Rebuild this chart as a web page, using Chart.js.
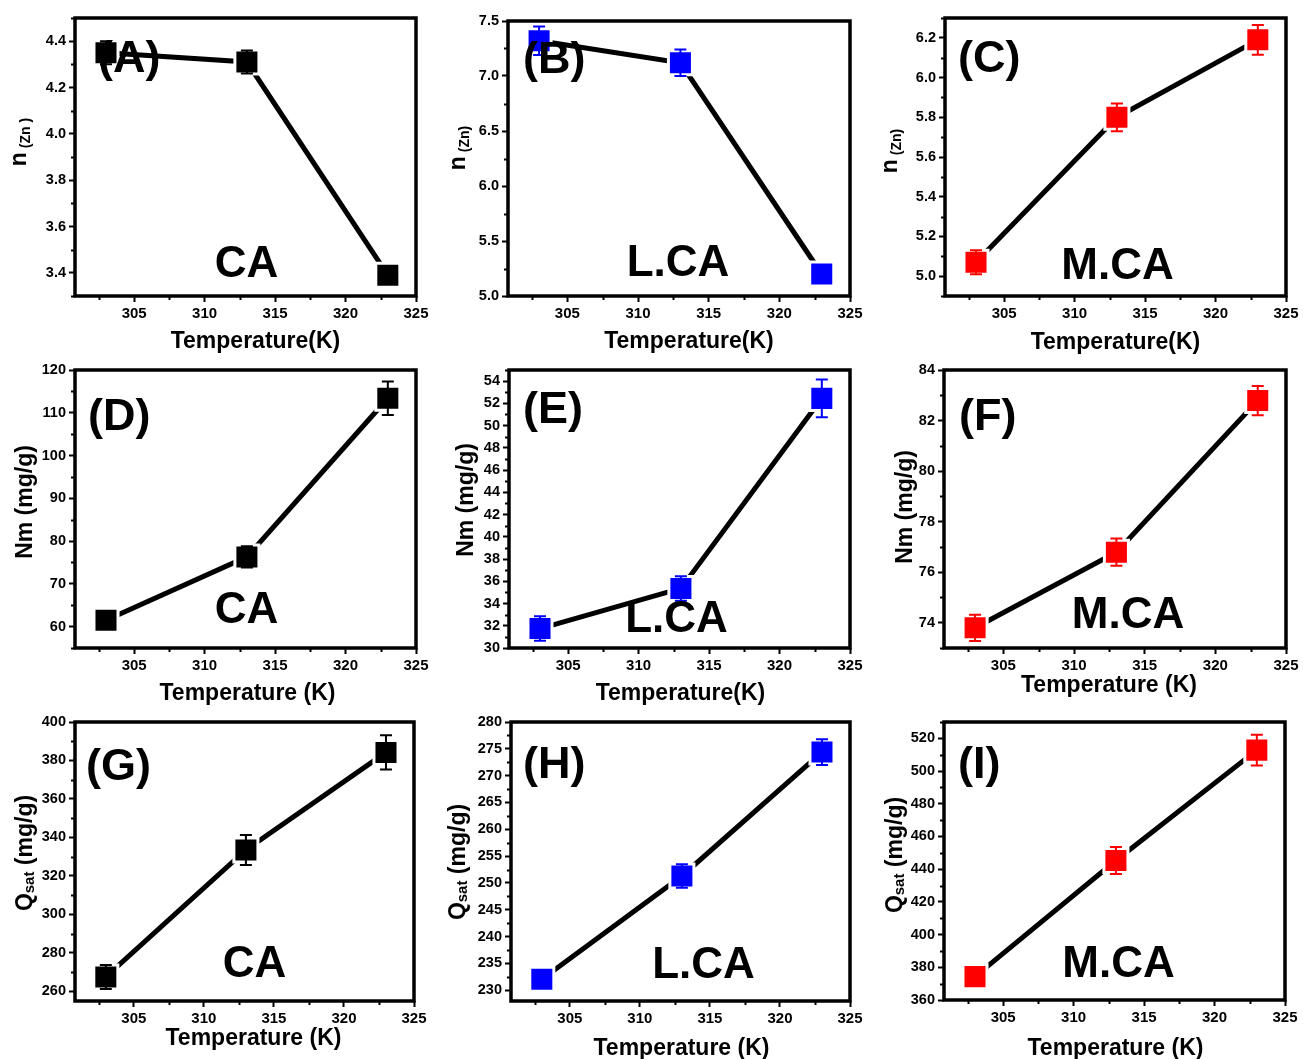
<!DOCTYPE html>
<html><head><meta charset="utf-8">
<script src="https://cdn.jsdelivr.net/npm/chart.js@4.4.1/dist/chart.umd.min.js"></script>
<style>
html,body{margin:0;padding:0;background:#fff;width:1303px;height:1059px;overflow:hidden;position:relative}
canvas{position:absolute}
</style></head><body>
<script>
// ---------- data ----------
const temperatures = [303, 313, 323];
const temperatureTicks = [305, 310, 315, 320, 325];

const nZnCA = [4.35, 4.31, 3.39],      nZnCAErr = [0.05, 0.05, 0.02];
const nZnLCA = [7.32, 7.12, 5.20],     nZnLCAErr = [0.13, 0.12, 0.05];
const nZnMCA = [5.07, 5.80, 6.19],     nZnMCAErr = [0.06, 0.07, 0.075];
const nmCA = [61.5, 76.3, 113.4],      nmCAErr = [1.0, 2.5, 3.9];
const nmLCA = [31.75, 35.36, 52.45],   nmLCAErr = [1.1, 1.1, 1.7];
const nmMCA = [73.8, 76.79, 82.79],    nmMCAErr = [0.52, 0.54, 0.58];
const qsatCA = [267.5, 333.5, 384.2],  qsatCAErr = [6.2, 7.8, 8.9];
const qsatLCA = [232.05, 251.3, 274.4],qsatLCAErr = [1.5, 2.2, 2.4];
const qsatMCA = [374.3, 445.3, 512.8], qsatMCAErr = [5, 8.2, 9.4];

const ticksA = [3.4, 3.6, 3.8, 4.0, 4.2, 4.4];
const ticksB = [5.0, 5.5, 6.0, 6.5, 7.0, 7.5];
const ticksC = [5.0, 5.2, 5.4, 5.6, 5.8, 6.0, 6.2];
const ticksD = [60, 70, 80, 90, 100, 110, 120];
const ticksE = [30, 32, 34, 36, 38, 40, 42, 44, 46, 48, 50, 52, 54];
const ticksF = [74, 76, 78, 80, 82, 84];
const ticksG = [260, 280, 300, 320, 340, 360, 380, 400];
const ticksH = [230, 235, 240, 245, 250, 255, 260, 265, 270, 275, 280];
const ticksI = [360, 380, 400, 420, 440, 460, 480, 500, 520];

const panelLetters = ['(A)', '(B)', '(C)', '(D)', '(E)', '(F)', '(G)', '(H)', '(I)'];
const sampleNames = ['CA', 'L.CA', 'M.CA'];
const xTitleNoSpace = 'Temperature(K)';
const xTitleSpace = 'Temperature (K)';

// ---------- styles / layout ----------
const BLACK = '#000000', BLUE = '#0000ff', RED = '#ff0000';
const FONT = '"Liberation Sans", Arial, sans-serif';
const nTitle = [['n', 23, 0], [' (Zn )', 14, 4]];
const nTitle2 = [['n', 23, 0], [' (Zn)', 14, 4]];
const nmTitle = [['Nm (mg/g)', 23, 0]];
const qTitle = [['Q', 23, 0], ['sat', 15, 2], [' (mg/g)', 23, 0]];

const panels = [
  {v: nZnCA, e: nZnCAErr, c: BLACK, ticks: ticksA, min: 3.3, max: 4.5, minor: 0.1, dec: 1, yt: nTitle, xt: xTitleNoSpace, s: 0,
   box: [75, 18, 421, 296], ytx: -49, yty: 124, xtx: 10, xty: 52, lx: 23, ly: 54, sx: 1, sy: -19},
  {v: nZnLCA, e: nZnLCAErr, c: BLUE, ticks: ticksB, min: 5.0, max: 7.5, minor: 0.25, dec: 1, yt: nTitle2, xt: xTitleNoSpace, s: 1,
   box: [508, 21, 855, 296], ytx: -43, yty: 127, xtx: 10, xty: 52, lx: 15, ly: 52, sx: -1, sy: -20},
  {v: nZnMCA, e: nZnMCAErr, c: RED, ticks: ticksC, min: 4.9, max: 6.3, minor: 0.1, dec: 1, yt: nTitle2, xt: xTitleNoSpace, s: 2,
   box: [945, 18, 1291, 296], ytx: -48, yty: 133, xtx: 0, xty: 53, lx: 13, ly: 54, sx: 2, sy: -17},
  {v: nmCA, e: nmCAErr, c: BLACK, ticks: ticksD, min: 55, max: 120, minor: 5, dec: 0, yt: nmTitle, xt: xTitleSpace, s: 0,
   box: [75, 370, 421, 648], ytx: -43, yty: 132, xtx: 2, xty: 52, lx: 13, ly: 60, sx: 1, sy: -25},
  {v: nmLCA, e: nmLCAErr, c: BLUE, ticks: ticksE, min: 30, max: 55, minor: 1, dec: 0, yt: nmTitle, xt: xTitleNoSpace, s: 1,
   box: [509, 370, 855, 648], ytx: -36, yty: 130, xtx: 1, xty: 52, lx: 14, ly: 53, sx: -3, sy: -16},
  {v: nmMCA, e: nmMCAErr, c: RED, ticks: ticksF, min: 73, max: 84, minor: 1, dec: 0, yt: nmTitle, xt: xTitleSpace, s: 2,
   box: [944, 370, 1291, 648], ytx: -32, yty: 137, xtx: -6, xty: 44, lx: 15, ly: 60, sx: 13, sy: -20},
  {v: qsatCA, e: qsatCAErr, c: BLACK, ticks: ticksG, min: 255, max: 400, minor: 10, dec: 0, yt: qTitle, xt: xTitleSpace, s: 0,
   box: [75, 722, 419, 1001], ytx: -43, yty: 131, xtx: 9, xty: 44, lx: 11, ly: 58, sx: 10, sy: -24},
  {v: qsatLCA, e: qsatLCAErr, c: BLUE, ticks: ticksH, min: 228, max: 280, minor: 2.5, dec: 0, yt: qTitle, xt: xTitleSpace, s: 1,
   box: [511, 722, 855, 1001], ytx: -46, yty: 140, xtx: 1, xty: 54, lx: 12, ly: 56, sx: 23, sy: -23},
  {v: qsatMCA, e: qsatMCAErr, c: RED, ticks: ticksI, min: 360, max: 530, minor: 10, dec: 0, yt: qTitle, xt: xTitleSpace, s: 2,
   box: [944, 722, 1290, 1000], ytx: -42, yty: 133, xtx: 1, xty: 55, lx: 14, ly: 56, sx: 4, sy: -23}
];

const PAD_L = 75, PAD_T = 25, PAD_R = 15, PAD_B = 65;

const decor = {
  id: 'decor',
  afterDatasetsDraw(chart, args, o) {
    const ctx = chart.ctx, xs = chart.scales.x, ys = chart.scales.y;
    ctx.save();
    ctx.strokeStyle = o.color; ctx.lineWidth = 2;
    o.values.forEach((v, i) => {
      const px = xs.getPixelForValue(o.xs[i]);
      const t = ys.getPixelForValue(v + o.errors[i]);
      const b = ys.getPixelForValue(v - o.errors[i]);
      ctx.beginPath();
      ctx.moveTo(px, t); ctx.lineTo(px, b);
      ctx.moveTo(px - 6, t); ctx.lineTo(px + 6, t);
      ctx.moveTo(px - 6, b); ctx.lineTo(px + 6, b);
      ctx.stroke();
    });
    ctx.restore();
  },
  afterDraw(chart, args, o) {
    const ctx = chart.ctx, xs = chart.scales.x, ys = chart.scales.y, ca = chart.chartArea;
    ctx.save();
    // frame
    ctx.strokeStyle = '#000'; ctx.lineWidth = 3.5;
    ctx.strokeRect(ca.left, ca.top, ca.right - ca.left, ca.bottom - ca.top);
    // minor ticks
    ctx.lineWidth = 2;
    ctx.beginPath();
    const near = (a, arr) => arr.some(t => Math.abs(t - a) < 1e-6);
    for (let k = Math.ceil(xs.min / 2.5 - 1e-9); k * 2.5 <= xs.max + 1e-9; k++) {
      const v = k * 2.5;
      if (near(v, o.xMajor)) continue;
      const px = Math.round(xs.getPixelForValue(v)) + 0.5;
      ctx.moveTo(px, ca.bottom); ctx.lineTo(px, ca.bottom + 4);
    }
    for (let k = Math.ceil(ys.min / o.minor - 1e-9); k * o.minor <= ys.max + 1e-9; k++) {
      const v = k * o.minor;
      if (near(v, o.yMajor)) continue;
      const py = Math.round(ys.getPixelForValue(v)) + 0.5;
      ctx.moveTo(ca.left, py); ctx.lineTo(ca.left - 4, py);
    }
    ctx.stroke();
    // texts
    ctx.fillStyle = '#000';
    ctx.textBaseline = 'alphabetic';
    ctx.font = 'bold 45px ' + FONT;
    ctx.textAlign = 'left';
    ctx.fillText(o.letter, ca.left + o.lx, ca.top + o.ly);
    ctx.font = 'bold 44px ' + FONT;
    ctx.textAlign = 'center';
    ctx.fillText(o.sample, (ca.left + ca.right) / 2 + o.sx, ca.bottom + o.sy);
    ctx.font = 'bold 23px ' + FONT;
    ctx.fillText(o.xTitle, (ca.left + ca.right) / 2 + o.xtx, ca.bottom + o.xty);
    ctx.textAlign = 'left';
    let total = 0;
    o.yTitle.forEach(([t, s]) => { ctx.font = 'bold ' + s + 'px ' + FONT; total += ctx.measureText(t).width; });
    ctx.translate(ca.left + o.ytx, ca.top + o.yty);
    ctx.rotate(-Math.PI / 2);
    let x = -total / 2;
    o.yTitle.forEach(([t, s, dy]) => {
      ctx.font = 'bold ' + s + 'px ' + FONT;
      ctx.fillText(t, x, dy);
      x += ctx.measureText(t).width;
    });
    ctx.restore();
  }
};

panels.forEach((p, idx) => {
  const [l, t, r, b] = p.box;
  const cv = document.createElement('canvas');
  const w = (r - l) + PAD_L + PAD_R, h = (b - t) + PAD_T + PAD_B;
  cv.width = w; cv.height = h;
  cv.style.left = (l - PAD_L) + 'px';
  cv.style.top = (t - PAD_T) + 'px';
  cv.style.width = w + 'px'; cv.style.height = h + 'px';
  document.body.appendChild(cv);
  const points = temperatures.map((x, i) => ({x: x, y: p.v[i]}));
  new Chart(cv, {
    type: 'line',
    data: {datasets: [{
      data: points,
      borderColor: BLACK, borderWidth: 5, tension: 0, fill: false,
      pointStyle: 'rect', pointRadius: 17, pointHoverRadius: 17,
      pointBackgroundColor: p.c, pointBorderColor: '#ffffff', pointBorderWidth: 3,
      clip: false
    }]},
    options: {
      responsive: false, animation: false, devicePixelRatio: 1,
      layout: {padding: {left: 0, top: PAD_T, right: PAD_R, bottom: 0}},
      plugins: {legend: {display: false}, tooltip: {enabled: false},
        decor: {values: p.v, errors: p.e, xs: temperatures, color: p.c, minor: p.minor,
          xMajor: temperatureTicks, yMajor: p.ticks, letter: panelLetters[idx], sample: sampleNames[p.s],
          xTitle: p.xt, yTitle: p.yt, ytx: p.ytx, yty: p.yty, xtx: p.xtx, xty: p.xty,
          lx: p.lx, ly: p.ly, sx: p.sx, sy: p.sy}},
      scales: {
        x: {type: 'linear', min: 300.8, max: 325,
          afterBuildTicks: s => { s.ticks = temperatureTicks.map(v => ({value: v})); },
          afterFit: s => { s.height = PAD_B; },
          grid: {drawOnChartArea: false, drawTicks: true, tickLength: 6, tickWidth: 2, tickColor: '#000'},
          border: {display: false},
          ticks: {color: '#000', padding: 3, maxRotation: 0, autoSkip: false,
            font: {family: FONT, weight: 'bold', size: 15}}},
        y: {type: 'linear', min: p.min, max: p.max,
          afterBuildTicks: s => { s.ticks = p.ticks.map(v => ({value: v})); },
          afterFit: s => { s.width = PAD_L; },
          grid: {drawOnChartArea: false, drawTicks: true, tickLength: 6, tickWidth: 2, tickColor: '#000'},
          border: {display: false},
          ticks: {color: '#000', padding: 3, autoSkip: false,
            callback: v => Number(v).toFixed(p.dec),
            font: {family: FONT, weight: 'bold', size: 14.5}}}
      }
    },
    plugins: [decor]
  });
});
</script>
</body></html>
